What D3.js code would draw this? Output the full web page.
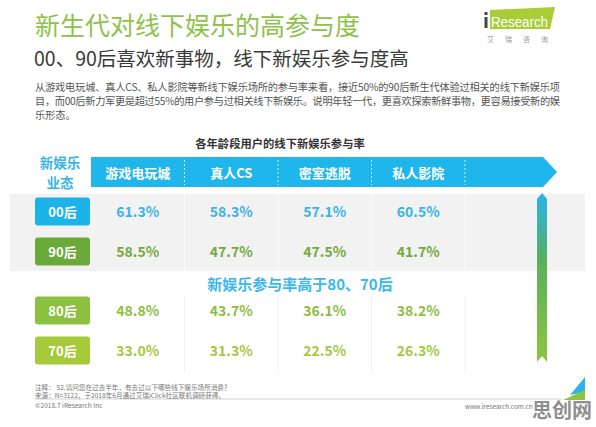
<!DOCTYPE html>
<html>
<head>
<meta charset="utf-8">
<script src="https://cdn.jsdelivr.net/npm/d3@7"></script>
<style>
  body { margin: 0; background: #fff; }
  svg { display: block; font-family: "Noto Sans CJK SC", "Noto Sans", sans-serif; }
</style>
</head>
<body>
<div id="chart"></div>
<script>
// data
const categories = ["游戏电玩城", "真人CS", "密室逃脱", "私人影院"];
const ages = ["00后", "90后", "80后", "70后"];
const groups = ["新生代", "前辈"];
const rate00 = [61.3, 58.3, 57.1, 60.5];
const rate90 = [58.5, 47.7, 47.5, 41.7];
const rate80 = [48.8, 43.7, 36.1, 38.2];
const rate70 = [33.0, 31.3, 22.5, 26.3];

const boxColors = ["#1cb3e9", "#69aa38", "#8cc040", "#a6ca3a"];
const valueColors = ["#3cb4e2", "#74a83f", "#8dbe42", "#a8c73d"];

const width = 596, height = 427;

const svg = d3.select("#chart").append("svg")
    .attr("width", width)
    .attr("height", height)
    .attr("viewBox", [0, 0, width, height]);

const defs = svg.append("defs");
const grad = defs.append("linearGradient")
    .attr("id", "vgrad")
    .attr("x1", 0).attr("y1", 0).attr("x2", 0).attr("y2", 1);
grad.append("stop").attr("offset", 0).attr("stop-color", "#27b4ec");
grad.append("stop").attr("offset", 0.4).attr("stop-color", "#58b05c");
grad.append("stop").attr("offset", 1).attr("stop-color", "#8dc63f");

// ---- heading block
svg.append("text")
    .attr("x", 35).attr("y", 35)
    .attr("font-size", 25)
    .attr("fill", "#8fc24a")
    .text("新生代对线下娱乐的高参与度");

svg.append("text")
    .attr("x", 34).attr("y", 66)
    .attr("font-size", 19.5)
    .attr("fill", "#3a3a3a")
    .text("00、90后喜欢新事物，线下新娱乐参与度高");

const para = [
  "从游戏电玩城、真人CS、私人影院等新线下娱乐场所的参与率来看，接近50%的90后新生代体验过相关的线下新娱乐项",
  "目，而00后新力军更是超过55%的用户参与过相关线下新娱乐。说明年轻一代，更喜欢探索新鲜事物，更容易接受新的娱",
  "乐形态。"
];
svg.append("g")
    .attr("font-size", 10.2)
    .attr("fill", "#555")
  .selectAll("text")
  .data(para)
  .join("text")
    .attr("x", 35)
    .attr("y", (d, i) => 91 + i * 14)
    .attr("textLength", (d, i) => i < 2 ? 525 : null)
    .attr("lengthAdjust", "spacing")
    .text(d => d);

// iResearch logo
const logo = svg.append("g");
logo.append("path")
    .attr("d", "M490,10 L555,7 L550,29 L490,29 Z")
    .attr("fill", "#a8cd38");
logo.append("rect").attr("x", 484.5).attr("y", 17).attr("width", 3).attr("height", 11).attr("fill", "#444");
logo.append("rect").attr("x", 484.5).attr("y", 12).attr("width", 3).attr("height", 3).attr("fill", "#444");
logo.append("text")
    .attr("x", 491).attr("y", 27)
    .attr("font-family", "Liberation Sans Narrow, Liberation Sans, sans-serif")
    .attr("font-size", 15)
    .attr("fill", "#fff")
    .attr("textLength", 57)
    .attr("lengthAdjust", "spacingAndGlyphs")
    .text("Research");
logo.append("text")
    .attr("x", 487).attr("y", 42)
    .attr("font-size", 7)
    .attr("fill", "#999")
    .attr("textLength", 61)
    .attr("lengthAdjust", "spacing")
    .text("艾瑞咨询");

// ---- table
const x = d3.scaleBand().domain(categories).range([91, 465]);
const yGroup = d3.scaleBand().domain(groups).range([182, 380]);
const yInner = d3.scalePoint().domain([0, 1]).range([-20, 20]);

const series = [rate00, rate90, rate80, rate70];
const rows = ages.map((a, i) => ({
  age: a,
  group: groups[i < 2 ? 0 : 1],
  idx: i % 2,
  values: series[i],
  box: boxColors[i],
  color: valueColors[i]
}));
const rowY = r => yGroup(r.group) + yGroup.bandwidth() / 2 + yInner(r.idx);

svg.append("text")
    .attr("x", 280).attr("y", 148)
    .attr("text-anchor", "middle")
    .attr("font-size", 11.3)
    .attr("font-weight", "bold")
    .attr("fill", "#333")
    .text("各年龄段用户的线下新娱乐参与率");

// grey band behind the young rows
svg.append("rect")
    .attr("x", 10)
    .attr("y", yGroup(groups[0]) + 12)
    .attr("width", 575)
    .attr("height", 77)
    .attr("fill", "#f2f2f2");

// header arrow
const x0 = x.range()[0], xEnd = 543;
svg.append("path")
    .attr("d", `M${x0},157 L${xEnd},157 L${xEnd + 14},172 L${xEnd},187 L${x0},187 Z`)
    .attr("fill", "#1fb6ec");

const seps = categories.slice(1).map(c => x(c)).concat([x.range()[1]]);
svg.append("g")
  .selectAll("line")
  .data(seps)
  .join("line")
    .attr("x1", d => d).attr("x2", d => d)
    .attr("y1", 160).attr("y2", 185)
    .attr("stroke", "#fff")
    .attr("stroke-opacity", 0.75)
    .attr("stroke-dasharray", "2,2");

// faint column lines in the body
svg.append("g")
  .selectAll("line")
  .data(seps)
  .join("line")
    .attr("x1", d => d).attr("x2", d => d)
    .attr("y1", yGroup(groups[0]) + 12).attr("y2", yGroup(groups[0]) + 89)
    .attr("stroke", "#fbfbfb");
svg.append("g")
  .selectAll("line")
  .data(seps)
  .join("line")
    .attr("x1", d => d).attr("x2", d => d)
    .attr("y1", yGroup(groups[1]) + 14).attr("y2", yGroup(groups[1]) + 92)
    .attr("stroke", "#f1f1f1");

svg.append("g")
    .attr("fill", "#fff")
    .attr("font-size", 13)
    .attr("font-weight", "bold")
    .attr("text-anchor", "middle")
  .selectAll("text")
  .data(categories)
  .join("text")
    .attr("x", d => x(d) + x.bandwidth() / 2)
    .attr("y", 177.5)
    .text(d => d);

// corner label on two lines
svg.append("g")
    .attr("fill", "#3ab6e6")
    .attr("font-size", 13.5)
    .attr("font-weight", "bold")
    .attr("text-anchor", "middle")
  .selectAll("text")
  .data(["新娱乐", "业态"])
  .join("text")
    .attr("x", 60)
    .attr("y", (d, i) => 168 + i * 20)
    .text(d => d);

// row label boxes
const rowG = svg.append("g")
  .selectAll("g")
  .data(rows)
  .join("g")
    .attr("transform", r => `translate(0,${rowY(r)})`);

rowG.append("rect")
    .attr("x", 35).attr("y", -14)
    .attr("width", 55).attr("height", 28)
    .attr("rx", 3)
    .attr("fill", r => r.box);

rowG.append("text")
    .attr("x", 62.5).attr("y", 5)
    .attr("text-anchor", "middle")
    .attr("font-size", 13)
    .attr("font-weight", "bold")
    .attr("fill", "#fff")
    .text(r => r.age);

rowG.selectAll(".val")
  .data(r => r.values.map((v, j) => ({v, c: categories[j], color: r.color})))
  .join("text")
    .attr("class", "val")
    .attr("x", d => x(d.c) + x.bandwidth() / 2)
    .attr("y", 5)
    .attr("text-anchor", "middle")
    .attr("font-size", 14)
    .attr("font-weight", "bold")
    .attr("fill", d => d.color)
    .text(d => d3.format(".1f")(d.v) + "%");

// sub heading between the groups
svg.append("text")
    .attr("x", 300)
    .attr("y", yGroup(groups[1]) + 9)
    .attr("text-anchor", "middle")
    .attr("font-size", 15)
    .attr("font-weight", "bold")
    .attr("fill", "#3cb8ea")
    .text("新娱乐参与率高于80、70后");

// vertical ribbon arrow
svg.append("path")
    .attr("d", "M542,193 L547,199 L547,362 L542,356 L537,362 L537,199 Z")
    .attr("fill", "url(#vgrad)");

// ---- footer
svg.append("line")
    .attr("x1", 35).attr("x2", 562)
    .attr("y1", 399).attr("y2", 399)
    .attr("stroke", "#c8c8c8")
    .attr("stroke-width", 0.8);

const notes = [
  "注释：  S2.请问您在过去半年，有去过以下哪些线下娱乐场所消费？",
  "来源：N=3122，于2018年6月通过艾瑞iClick社区联机调研获得。",
  "©2018.7 iResearch Inc"
];
svg.append("g")
    .attr("font-size", 6.6)
    .attr("fill", "#777")
  .selectAll("text")
  .data(notes)
  .join("text")
    .attr("x", 35)
    .attr("y", (d, i) => 389.5 + i * 8.5 + (i === 2 ? 1.5 : 0))
    .text(d => d);

svg.append("text")
    .attr("x", 465).attr("y", 408.5)
    .attr("font-size", 6.4)
    .attr("fill", "#777")
    .text("www.iresearch.com.cn");

svg.append("path")
    .attr("d", "M585,377 L585,392 L570,395 Z")
    .attr("fill", "#2cb4ea");
svg.append("path")
    .attr("d", "M585,390 L585,400 L563,400 Z")
    .attr("fill", "#8cc63f");

// watermark present in the picture
svg.append("text")
    .attr("x", 532).attr("y", 418)
    .attr("font-size", 20)
    .attr("font-weight", "bold")
    .attr("fill", "#7a7a7a")
    .attr("fill-opacity", 0.85)
    .text("思创网");
</script>
</body>
</html>
